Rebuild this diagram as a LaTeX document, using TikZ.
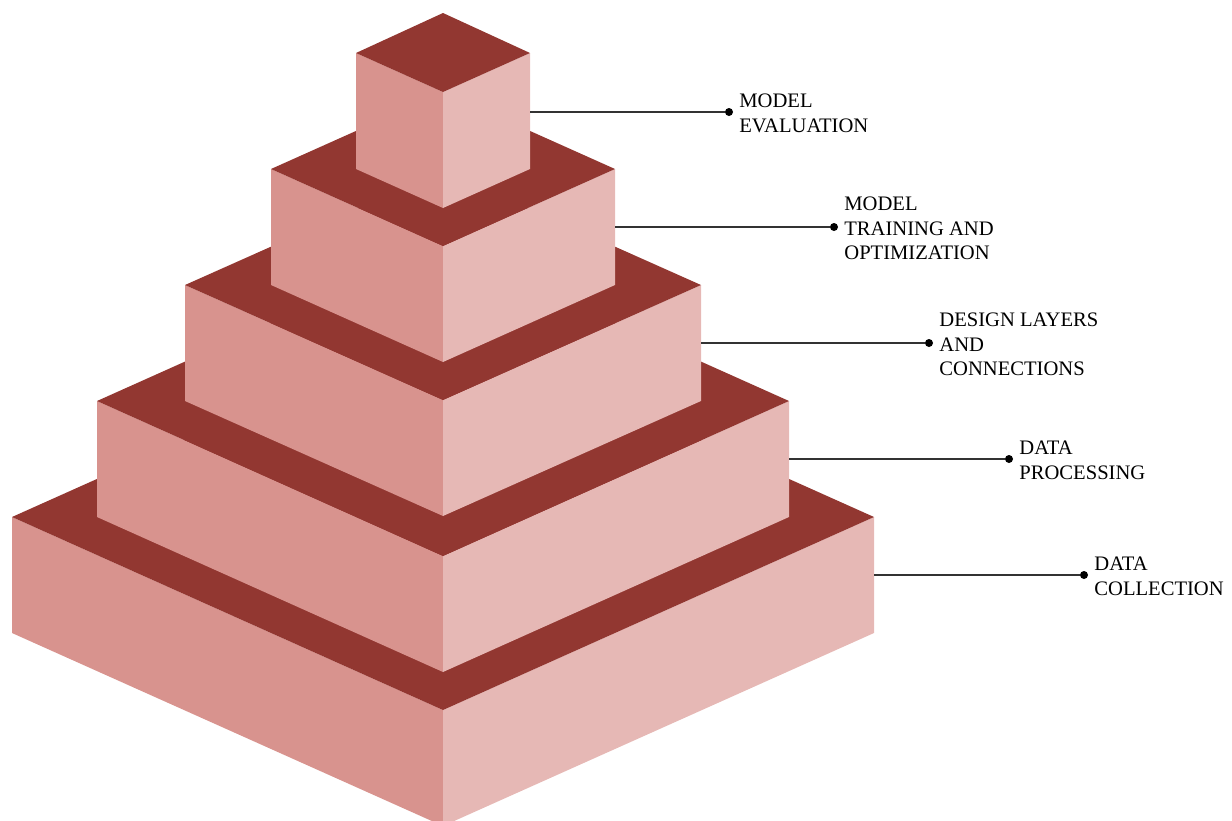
\documentclass[tikz,border=0pt]{standalone}
\usepackage{fontspec}
\setmainfont{Liberation Serif}
\usetikzlibrary{positioning}
\definecolor{pyrtop}{HTML}{923731}
\definecolor{pyrleft}{HTML}{D8938E}
\definecolor{pyrright}{HTML}{E6B8B5}
\begin{document}
\begin{tikzpicture}[x=1pt,y=-1pt,
	layertop/.style={fill=pyrtop},
	layerleft/.style={fill=pyrleft},
	layerright/.style={fill=pyrright},
	leaderline/.style={draw=black!80,line width=1.1pt},
	leaderdot/.style={circle,fill=black,inner sep=0pt,minimum size=8pt},
	layertext/.style={anchor=west,align=left,inner sep=0pt,font=\fontsize{20.6}{24.5}\selectfont}]
	\clip (0,0) rectangle (1232,820);
	\fill[layerleft] (12,517) -- (443,710) -- (443,826) -- (12,633) -- cycle;
	\fill[layerright] (443,710) -- (874,517) -- (874,633) -- (443,826) -- cycle;
	\fill[layertop] (12,517) -- (443,324) -- (874,517) -- (443,710) -- cycle;
	\fill[layerleft] (97,401) -- (443,556) -- (443,672) -- (97,517) -- cycle;
	\fill[layerright] (443,556) -- (789,401) -- (789,517) -- (443,672) -- cycle;
	\fill[layertop] (97,401) -- (443,246) -- (789,401) -- (443,556) -- cycle;
	\fill[layerleft] (185,285) -- (443,400) -- (443,516) -- (185,401) -- cycle;
	\fill[layerright] (443,400) -- (701,285) -- (701,401) -- (443,516) -- cycle;
	\fill[layertop] (185,285) -- (443,170) -- (701,285) -- (443,400) -- cycle;
	\fill[layerleft] (271,169) -- (443,246) -- (443,362) -- (271,285) -- cycle;
	\fill[layerright] (443,246) -- (615,169) -- (615,285) -- (443,362) -- cycle;
	\fill[layertop] (271,169) -- (443,92) -- (615,169) -- (443,246) -- cycle;
	\fill[layerleft] (356,53) -- (443,92) -- (443,208) -- (356,169) -- cycle;
	\fill[layerright] (443,92) -- (530,53) -- (530,169) -- (443,208) -- cycle;
	\fill[layertop] (356,53) -- (443,13) -- (530,53) -- (443,92) -- cycle;
	\coordinate (e1) at (874,575);
	\coordinate (e2) at (789,459);
	\coordinate (e3) at (701,343);
	\coordinate (e4) at (615,227);
	\coordinate (e5) at (530,112);
	\node[leaderdot] (d1) at (1084,575) {};
	\node[leaderdot] (d2) at (1009,459) {};
	\node[leaderdot] (d3) at (929,343) {};
	\node[leaderdot] (d4) at (834,227) {};
	\node[leaderdot] (d5) at (729,112) {};
	\draw[leaderline] (e1) -- (d1);
	\draw[leaderline] (e2) -- (d2);
	\draw[leaderline] (e3) -- (d3);
	\draw[leaderline] (e4) -- (d4);
	\draw[leaderline] (e5) -- (d5);
	\node[layertext,right=6pt of d1,yshift=-1.5pt] (t1) {DATA\\COLLECTION};
	\node[layertext,right=6pt of d2,yshift=-1.5pt] (t2) {DATA\\PROCESSING};
	\node[layertext,right=6pt of d3,yshift=-1.5pt] (t3) {DESIGN LAYERS\\AND\\CONNECTIONS};
	\node[layertext,right=6pt of d4,yshift=-1.5pt] (t4) {MODEL\\TRAINING AND\\OPTIMIZATION};
	\node[layertext,right=6pt of d5,yshift=-1.5pt] (t5) {MODEL\\EVALUATION};
\end{tikzpicture}
\end{document}
